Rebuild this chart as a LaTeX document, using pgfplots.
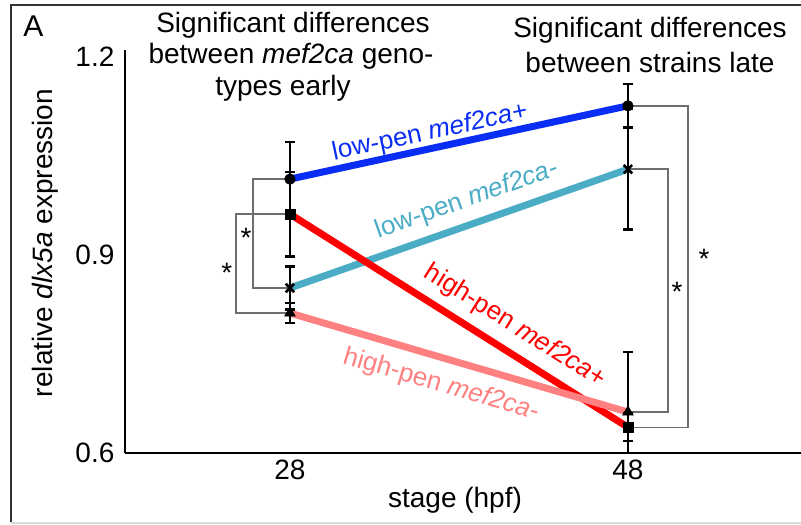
\documentclass[border=0pt]{standalone}
\usepackage{fontspec}
\setmainfont{Liberation Sans}
\usepackage{pgfplots}
\pgfplotsset{compat=1.18}
\definecolor{cblue}{RGB}{10,45,245}
\definecolor{cteal}{RGB}{75,172,198}
\definecolor{cred}{RGB}{255,0,0}
\definecolor{csalmon}{RGB}{255,128,128}
\definecolor{cbrk}{RGB}{110,110,110}
\newcommand{\mainfs}{\fontsize{14bp}{16bp}\selectfont}
\newcommand{\lblfs}{\fontsize{13bp}{15bp}\selectfont}
\pgfplotsset{ebs/.style={only marks, black, mark options={solid, fill=black, draw=black},
  error bars/y dir=both, error bars/y explicit,
  error bars/error mark=|,
  error bars/error bar style={line width=1.3bp, black},
  error bars/error mark options={line width=1.3bp, mark size=2.4bp, black}}}
\begin{document}
\begin{tikzpicture}
\useasboundingbox (0,0) rectangle (400.5bp,262.5bp);
% frame
\draw[line width=1bp, black!80] (5.5bp,1.5bp) -- (5.5bp,260bp) -- (410bp,260bp);
\draw[line width=0.8bp, black!15] (5.5bp,1bp) -- (410bp,1bp);
% panel letter and titles
\node[anchor=base west, inner sep=0pt, font=\fontsize{15bp}{17bp}\selectfont] at (11.5bp,244bp) {A};
\node[anchor=base, inner sep=0pt, font=\mainfs] at (146.5bp,246bp) {Significant differences};
\node[anchor=base, inner sep=0pt, font=\mainfs] at (145.5bp,230.5bp) {between \textit{mef2ca} geno-};
\node[anchor=base, inner sep=0pt, font=\mainfs] at (141.5bp,214.5bp) {types early};
\node[anchor=base, inner sep=0pt, font=\mainfs] at (325bp,243.6bp) {Significant differences};
\node[anchor=base, inner sep=0pt, font=\mainfs] at (325bp,226.2bp) {between strains late};
% axis labels
\node[anchor=base, inner sep=0pt, font=\mainfs] at (227.5bp,9bp) {stage (hpf)};
\node[anchor=base, inner sep=0pt, rotate=90, font=\mainfs] at (26bp,141bp) {relative \textit{dlx5a} expression};
\begin{axis}[
  at={(62.5bp,36bp)}, anchor=south west,
  scale only axis, width=344.42bp, height=201.5bp,
  xmin=18.24, xmax=59, ymin=0.6, ymax=1.2106,
  axis x line*=bottom, axis y line*=left,
  axis line style={line width=1.2bp, black, -},
  major tick length=0pt,
  xtick={28,48}, ytick={0.6,0.9,1.2},
  /pgf/number format/assume math mode=true,
  yticklabel style={/pgf/number format/fixed, /pgf/number format/precision=1, /pgf/number format/fixed zerofill, xshift=-1.8bp},
  tick label style={font=\mainfs},
  clip=true,
]
% colored lines
\addplot[cblue, line width=3.5bp] coordinates {(28,1.015) (48,1.126)};
\addplot[cteal, line width=3.5bp] coordinates {(28,0.850) (48,1.030)};
\addplot[cred, line width=3.5bp] coordinates {(28,0.962) (48,0.639)};
\addplot[csalmon, line width=3.5bp] coordinates {(28,0.812) (48,0.662)};
% significance brackets
\addplot[cbrk, line width=0.7bp] coordinates {(28,1.015) (25.81,1.015) (25.81,0.850) (28,0.850)};
\addplot[cbrk, line width=0.7bp] coordinates {(28,0.962) (24.80,0.962) (24.80,0.812) (28,0.812)};
\addplot[cbrk, line width=0.7bp] coordinates {(48,1.030) (50.37,1.030) (50.37,0.662) (48,0.662)};
\addplot[cbrk, line width=0.7bp] coordinates {(48,1.126) (51.55,1.126) (51.55,0.639) (48,0.639)};
% markers with error bars
\addplot[ebs, mark=*, mark size=2.6bp] coordinates {(28,1.015) +- (0,0.056) (48,1.126) +- (0,0.033)};
\addplot[ebs, mark=square*, mark size=2.5bp] coordinates {(28,0.962) +- (0,0.064) (48,0.639) +- (0,0.021)};
\addplot[ebs, mark=x, mark size=3bp, mark options={line width=1.3bp}] coordinates {(28,0.850) +- (0,0.033) (48,1.030) +- (0,0.091)};
\addplot[ebs, mark=triangle*, mark size=3bp] coordinates {(28,0.812) +- (0,0.015) (48,0.662) +- (0,0.091)};
% line labels
\node[font=\lblfs, text=cblue, rotate=12.0, inner sep=0pt] at (axis cs:36.28,1.085) {low-pen \textit{mef2ca+}};
\node[font=\lblfs, text=cteal, rotate=19.4, inner sep=0pt] at (axis cs:38.47,0.983) {low-pen \textit{mef2ca-}};
\node[font=\lblfs, text=cred, rotate=-32.2, inner sep=0pt] at (axis cs:41.31,0.792) {high-pen \textit{mef2ca+}};
\node[font=\lblfs, text=csalmon, rotate=-16.3, inner sep=0pt] at (axis cs:36.93,0.703) {high-pen \textit{mef2ca-}};
% asterisks
\node[font=\mainfs, anchor=base, inner sep=0pt] at (axis cs:25.40,0.911) {*};
\node[font=\mainfs, anchor=base, inner sep=0pt] at (axis cs:24.27,0.859) {*};
\node[font=\mainfs, anchor=base, inner sep=0pt] at (axis cs:50.90,0.830) {*};
\node[font=\mainfs, anchor=base, inner sep=0pt] at (axis cs:52.50,0.879) {*};
\end{axis}
\end{tikzpicture}
\end{document}
